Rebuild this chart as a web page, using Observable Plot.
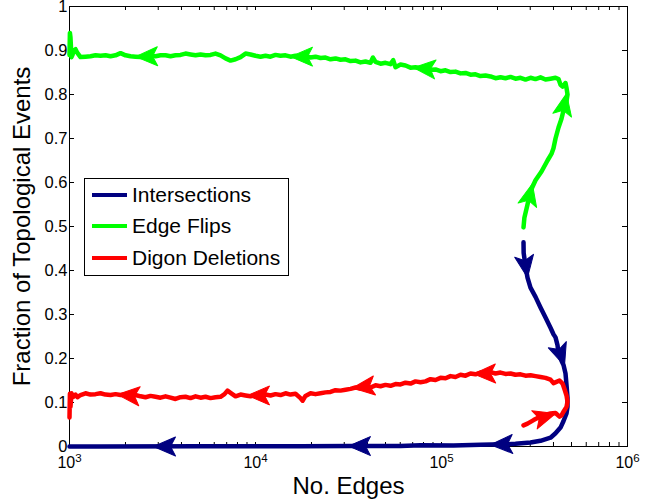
<!DOCTYPE html>
<html><head><meta charset="utf-8">
<script src="https://cdn.jsdelivr.net/npm/d3@7"></script>
<script src="https://cdn.jsdelivr.net/npm/@observablehq/plot@0.6"></script>
<style>
body{margin:0;background:#fff;}
#wrap{position:relative;width:650px;height:500px;font-family:"Liberation Sans",Arial,sans-serif;}
#legend{position:absolute;left:84px;top:178px;width:203px;height:96px;border:1px solid #000;background:#fff;}
.row{position:absolute;left:0;height:30px;display:flex;align-items:center;white-space:nowrap;}
.sw{width:35px;height:4px;margin-left:7px;margin-right:5px;}
.lab{font-size:21px;color:#000;}
</style></head><body><div id="wrap"></div>
<script>
const seriesNames = ["Intersections", "Edge Flips", "Digon Deletions"];
const seriesColors = ["#000080", "#00ff00", "#ff0000"];
const xLabel = "No. Edges";
const yLabel = "Fraction of Topological Events";
const xMajor = [1e3, 1e4, 1e5, 1e6];
const xTickLabels = ["10^3", "10^4", "10^5", "10^6"];
const xMinor = [2e3,3e3,4e3,5e3,6e3,7e3,8e3,9e3, 2e4,3e4,4e4,5e4,6e4,7e4,8e4,9e4, 2e5,3e5,4e5,5e5,6e5,7e5,8e5,9e5];
const yTicks = [0, 0.1, 0.2, 0.3, 0.4, 0.5, 0.6, 0.7, 0.8, 0.9, 1];
const yTickLabels = ["0", "0.1", "0.2", "0.3", "0.4", "0.5", "0.6", "0.7", "0.8", "0.9", "1"];

// series in time order: [edges, fraction]
const intersections = [
  [276000,0.464],[276500,0.44],[282900,0.41],[290000,0.384],[300900,0.361],[320200,0.34],[340600,0.316],
  [362400,0.293],[385500,0.27],[400000,0.255],[410200,0.248],[420500,0.23],[425700,0.211],[441700,0.195],
  [453000,0.185],[464200,0.166],[470000,0.14],[475800,0.111],[475800,0.09],[470000,0.075],[453000,0.058],
  [436400,0.043],[410200,0.03],[385500,0.02],[340600,0.013],[300900,0.009],[249900,0.006],[215300,0.005],
  [162000,0.004],[116000,0.002],[77110,0.003],[60200,0.001],[32420,0.001],[17460,0.0005],[5064,0.0003],
  [1468,0],[1000,0]
];
const edgeFlips = [
  [276000,0.498],[279000,0.52],[290000,0.55],[300900,0.58],[320200,0.605],[345000,0.625],[371500,0.65],
  [390000,0.665],[400000,0.678],[410200,0.70],[425700,0.725],[441700,0.745],[453000,0.764],[470000,0.785],
  [476000,0.80],[470000,0.815],[464200,0.826],[447600,0.818],[436400,0.822],[425700,0.835],[410200,0.838],
  [385500,0.836],[362400,0.834],[340600,0.839],[320200,0.835],[300900,0.838],[282900,0.834],[265900,0.838],
  [249900,0.836],[234900,0.840],[220800,0.837],[207600,0.839],[195100,0.837],[183400,0.841],[172400,0.843],
  [162000,0.842],[152300,0.846],[143200,0.845],[134600,0.849],[126500,0.848],[118900,0.852],[111800,0.851],
  [105100,0.855],[98770,0.853],[92840,0.857],[87270,0.856],[82030,0.859],[77110,0.860],[72480,0.862],
  [68130,0.861],[64040,0.866],[60200,0.868],[56590,0.862],[55000,0.878],[53190,0.869],[50000,0.872],
  [46990,0.870],[44170,0.874],[42800,0.884],[41520,0.872],[39030,0.875],[36690,0.873],[34490,0.877],
  [32420,0.876],[30470,0.880],[28640,0.879],[26920,0.882],[25310,0.880],[23790,0.884],[22360,0.883],
  [21020,0.886],[19760,0.884],[18570,0.887],[17460,0.885],[16410,0.888],[15430,0.886],[14500,0.889],
  [13630,0.888],[12810,0.890],[12040,0.886],[11320,0.888],[10640,0.886],[10000,0.888],[9400,0.891],
  [8839,0.893],[8309,0.885],[7810,0.880],[7341,0.877],[6901,0.882],[6486,0.889],[6097,0.893],[5731,0.890],
  [5387,0.889],[5064,0.891],[4760,0.889],[4474,0.891],[4205,0.893],[3953,0.890],[3715,0.889],[3492,0.887],
  [3283,0.889],[3086,0.889],[2900,0.887],[2727,0.888],[2563,0.886],[2409,0.885],[2264,0.886],[2129,0.887],
  [2001,0.889],[1881,0.894],[1768,0.889],[1662,0.887],[1562,0.889],[1468,0.888],[1380,0.889],[1297,0.887],
  [1219,0.886],[1146,0.885],[1100,0.895],[1077,0.903],[1050,0.898],[1038,0.890],[1025,0.885],[1012,0.930],
  [1005,0.940],[1000,0.890]
];
const digonDeletions = [
  [276000,0.048],[290000,0.052],[312600,0.060],[340600,0.068],[366800,0.073],[385500,0.075],[410200,0.076],
  [431000,0.068],[441700,0.071],[453000,0.079],[470000,0.090],[475800,0.102],[470000,0.116],[458600,0.130],
  [447600,0.143],[431000,0.150],[415000,0.147],[400000,0.144],[385500,0.152],[362400,0.156],[340600,0.158],
  [320200,0.160],[300900,0.162],[282900,0.161],[265900,0.164],[249900,0.163],[234900,0.166],[220800,0.165],
  [207600,0.168],[195100,0.166],[183400,0.169],[172400,0.166],[162000,0.168],[152300,0.164],[143200,0.166],
  [134600,0.161],[126500,0.163],[118900,0.158],[111800,0.160],[105100,0.155],[98770,0.156],[92840,0.151],
  [87270,0.153],[82030,0.148],[77110,0.146],[72480,0.148],[68130,0.143],[64040,0.145],[60200,0.141],
  [56590,0.142],[53190,0.138],[50000,0.140],[46990,0.137],[44170,0.139],[41520,0.134],[39030,0.136],
  [36690,0.132],[34490,0.134],[32420,0.131],[30470,0.129],[28640,0.127],[26920,0.128],[25310,0.124],
  [23790,0.123],[22360,0.121],[21020,0.119],[19760,0.121],[18570,0.115],[17900,0.104],[17460,0.110],
  [16410,0.120],[15430,0.118],[14500,0.121],[13630,0.117],[12810,0.119],[12040,0.116],[11320,0.118],
  [10640,0.115],[10000,0.117],[9400,0.114],[8839,0.116],[8309,0.118],[7810,0.114],[7341,0.122],[7069,0.127],
  [6813,0.119],[6486,0.113],[6097,0.112],[5731,0.110],[5387,0.113],[5064,0.111],[4760,0.114],[4474,0.110],
  [4205,0.113],[3953,0.112],[3715,0.108],[3492,0.111],[3283,0.114],[3086,0.111],[2900,0.113],[2727,0.115],
  [2563,0.112],[2409,0.114],[2264,0.117],[2129,0.115],[2001,0.118],[1881,0.117],[1768,0.119],[1662,0.117],
  [1562,0.118],[1468,0.121],[1380,0.119],[1297,0.118],[1219,0.121],[1146,0.117],[1104,0.112],[1077,0.118],
  [1050,0.113],[1025,0.121],[1012,0.090],[1005,0.120],[1000,0.066]
];

// arrow tips (edges, fraction)
const intersectionArrowX = [290000, 458600, 183400, 31620, 2829];
const intersectionArrowY = [0.384, 0.184, 0.004, 0.001, 0.0];
const flipArrowX = [308000, 470000, 70600, 15430, 2264];
const flipArrowY = [0.597, 0.802, 0.861, 0.886, 0.886];
const digonArrowX = [410200, 148600, 33250, 9060, 1812];
const digonArrowY = [0.075, 0.165, 0.133, 0.116, 0.118];

const W = 650, H = 500, mL = 69, mR = 23, mT = 6, mB = 54;
const pxX = d3.scaleLog().domain([1e3, 1e6]).range([mL, W - mR]);
const pxY = d3.scaleLinear().domain([0, 1]).range([H - mB, mT]);

function arrowAngle(series, tx, ty) {
  const P = series.map(([x, y]) => [pxX(x), pxY(y)]);
  const t = [pxX(tx), pxY(ty)];
  let best = 0, bd = Infinity;
  P.forEach((p, i) => { const d = Math.hypot(p[0] - t[0], p[1] - t[1]); if (d < bd) { bd = d; best = i; } });
  let j = best;
  while (j > 0 && Math.hypot(P[j][0] - t[0], P[j][1] - t[1]) < 20) j--;
  const dx = t[0] - P[j][0], dy = t[1] - P[j][1];
  return Math.atan2(dx, -dy) * 180 / Math.PI;
}
function arrows(series, xs, ys) {
  return xs.map((x, i) => ({x, y: ys[i], angle: arrowAngle(series, x, ys[i])}));
}
const arrowHead = {draw(ctx) { ctx.moveTo(0, 0); ctx.lineTo(9.5, 22); ctx.lineTo(0, 17); ctx.lineTo(-9.5, 22); ctx.closePath(); }};

const seriesData = [intersections, edgeFlips, digonDeletions];
const arrowSets = [
  arrows(intersections, intersectionArrowX, intersectionArrowY),
  arrows(edgeFlips, flipArrowX, flipArrowY),
  arrows(digonDeletions, digonArrowX, digonArrowY)
];

const lineMarks = [];
seriesData.forEach((s, k) => {
  lineMarks.push(Plot.line(s, {x: d => d[0], y: d => d[1], stroke: seriesColors[k], strokeWidth: 4.5, strokeLinejoin: "round"}));
  lineMarks.push(Plot.dot(arrowSets[k], {x: "x", y: "y", rotate: "angle", symbol: arrowHead, r: 5, fill: seriesColors[k], stroke: seriesColors[k], strokeWidth: 1, strokeLinejoin: "round"}));
});

const plotW = W - mL - mR, plotH = H - mT - mB;
const chart = Plot.plot({
  width: W, height: H,
  marginLeft: mL, marginRight: mR, marginTop: mT, marginBottom: mB,
  style: {fontFamily: '"Liberation Sans", Arial, sans-serif', fontSize: "16px", color: "#000", background: "#fff", overflow: "visible"},
  x: {type: "log", domain: [1e3, 1e6]},
  y: {domain: [0, 1]},
  marks: [
    Plot.frame({stroke: "#000", strokeWidth: 1}),
    Plot.tickX(xMajor.concat(xMinor), {x: d => d, insetTop: plotH - 4, stroke: "#000"}),
    Plot.tickX(xMajor.concat(xMinor), {x: d => d, insetBottom: plotH - 4, stroke: "#000"}),
    Plot.tickY(yTicks, {y: d => d, insetRight: plotW - 5, stroke: "#000"}),
    Plot.tickY(yTicks, {y: d => d, insetLeft: plotW - 5, stroke: "#000"}),
    Plot.axisX({ticks: xMajor, tickSize: 0, tickPadding: 10, fontSize: 16, label: null,
      tickFormat: d => xTickLabels[xMajor.indexOf(d)]}),
    Plot.axisY({ticks: yTicks, tickSize: 0, tickPadding: 2, fontSize: 16.5, label: null,
      tickFormat: d => yTickLabels[yTicks.indexOf(d)]}),
    Plot.text([xLabel], {text: d => d, frameAnchor: "bottom", dy: 40, lineAnchor: "middle", textAnchor: "middle", fontSize: 24}),
    Plot.text([yLabel], {text: d => d, frameAnchor: "left", dx: -47, rotate: -90, lineAnchor: "middle", textAnchor: "middle", fontSize: 24}),
    ...lineMarks
  ]
});

// superscript exponents on the log axis labels
chart.querySelectorAll('g[aria-label="x-axis tick label"] text').forEach(t => {
  const parts = t.textContent.split("^");
  if (parts.length !== 2) return;
  t.textContent = "";
  const ns = "http://www.w3.org/2000/svg";
  const a = document.createElementNS(ns, "tspan"); a.textContent = parts[0];
  a.setAttribute("font-size", "16"); t.appendChild(a);
  const b = document.createElementNS(ns, "tspan"); b.textContent = parts[1];
  b.setAttribute("dy", "-0.5em"); b.setAttribute("font-size", "11.5"); t.appendChild(b);
});

const wrap = document.getElementById("wrap");
wrap.appendChild(chart);
const legend = document.createElement("div");
legend.id = "legend";
const rowCenters = [16, 47, 79];
seriesNames.forEach((name, k) => {
  const row = document.createElement("div");
  row.className = "row";
  row.style.top = (rowCenters[k] - 15) + "px";
  const sw = document.createElement("div"); sw.className = "sw"; sw.style.background = seriesColors[k];
  const lab = document.createElement("span"); lab.className = "lab"; lab.textContent = name;
  row.appendChild(sw); row.appendChild(lab);
  legend.appendChild(row);
});
wrap.appendChild(legend);
</script></body></html>
